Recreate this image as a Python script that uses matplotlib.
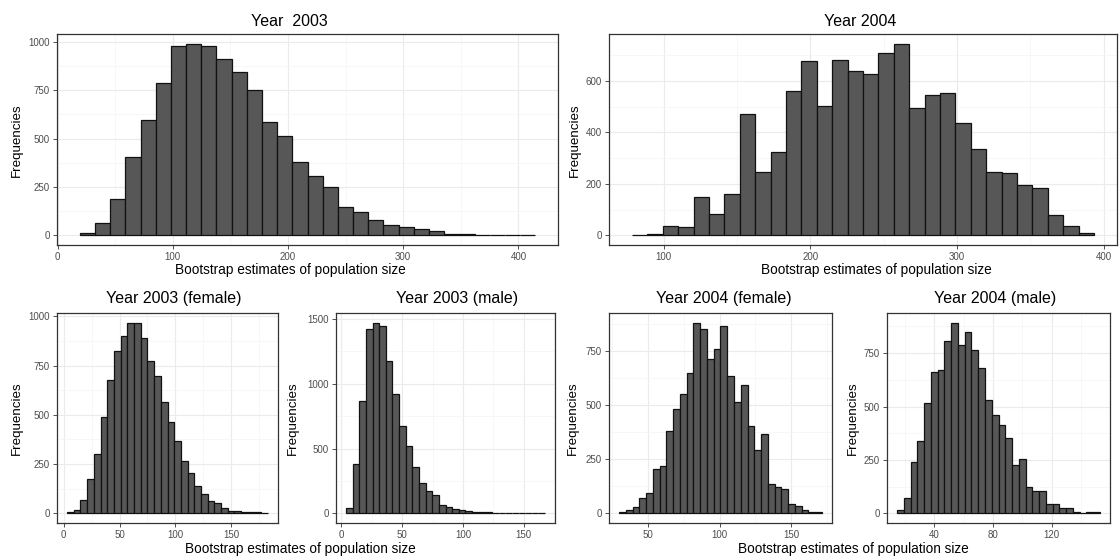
import numpy as np
import matplotlib
matplotlib.use("Agg")
import matplotlib.pyplot as plt
from matplotlib.ticker import MultipleLocator

plt.rcParams['font.family'] = ['Liberation Sans', 'DejaVu Sans']

W, H = 1120, 557

# histogram counts (30 bins each)
counts_2003 = [10, 65, 188, 403, 594, 787, 979, 990, 976, 912, 842, 749, 587, 513, 377,
               306, 251, 146, 119, 79, 53, 43, 31, 24, 9, 5, 4, 3, 3, 2]
counts_2004 = [3, 6, 35, 31, 150, 84, 162, 473, 246, 324, 559, 676, 503, 682, 640,
               627, 709, 745, 496, 544, 553, 437, 336, 248, 242, 196, 185, 79, 35, 8]
counts_2003_f = [7, 20, 66, 176, 301, 487, 677, 825, 899, 968, 968, 891, 775, 699, 565,
                 464, 365, 264, 205, 138, 99, 62, 54, 30, 13, 13, 5, 5, 5, 3]
counts_2003_m = [43, 383, 866, 1421, 1472, 1446, 1178, 920, 677, 519, 355, 235, 171, 146, 69,
                 49, 38, 28, 20, 13, 8, 8, 5, 5, 3, 0, 0, 0, 0, 5]
counts_2004_f = [5, 14, 29, 69, 92, 205, 221, 379, 480, 550, 649, 880, 849, 713, 759,
                 866, 632, 515, 594, 405, 293, 367, 136, 124, 113, 44, 35, 17, 9, 5]
counts_2004_m = [17, 70, 239, 339, 516, 660, 671, 808, 893, 786, 851, 764, 682, 530, 460,
                 414, 353, 228, 256, 124, 104, 104, 45, 42, 25, 25, 6, 3, 8, 5]

# histogram ranges (first bin start, last bin end)
range_2003 = (19.3, 414.6)
range_2004 = (78.4, 393.4)
range_2003_f = (3.0, 183.0)
range_2003_m = (3.8, 167.4)
range_2004_f = (30.1, 171.2)
range_2004_m = (14.75, 152.8)

titles = ["Year  2003", "Year 2004", "Year 2003 (female)", "Year 2003 (male)",
          "Year 2004 (female)", "Year 2004 (male)"]

fig = plt.figure(figsize=(W / 100, H / 100), dpi=100)


def px_axes(x0, x1, y0, y1):
    return fig.add_axes([x0 / W, 1 - y1 / H, (x1 - x0) / W, (y1 - y0) / H])


def hist_panel(ax, counts, rng, xmaj, ymaj):
    counts = np.array(counts)
    edges = np.linspace(rng[0], rng[1], len(counts) + 1)
    ax.bar(edges[:-1], counts, width=np.diff(edges), align='edge',
           color='#575757', edgecolor='#111111', linewidth=0.9, zorder=3)
    span = rng[1] - rng[0]
    ax.set_xlim(rng[0] - 0.05 * span, rng[1] + 0.05 * span)
    top = counts.max()
    ax.set_ylim(-0.05 * top, 1.05 * top)
    ax.xaxis.set_major_locator(MultipleLocator(xmaj))
    ax.xaxis.set_minor_locator(MultipleLocator(xmaj / 2))
    ax.yaxis.set_major_locator(MultipleLocator(ymaj))
    ax.yaxis.set_minor_locator(MultipleLocator(ymaj / 2))
    ax.grid(which='major', color='#EBEBEB', linewidth=0.8, zorder=0)
    ax.grid(which='minor', color='#F4F4F4', linewidth=0.5, zorder=0)
    ax.set_axisbelow(True)
    ax.tick_params(which='major', length=3, width=0.6, color='#333333',
                   labelsize=7, labelcolor='#4D4D4D', pad=2)
    ax.tick_params(which='minor', length=0)
    for s in ax.spines.values():
        s.set_color('#333333')
        s.set_linewidth(0.9)


panels = [
    ((57, 558, 34, 245), counts_2003, range_2003, 100, 250),
    ((609, 1117, 34, 245), counts_2004, range_2004, 100, 200),
    ((57, 278, 313, 523), counts_2003_f, range_2003_f, 50, 250),
    ((336, 555, 313, 523), counts_2003_m, range_2003_m, 50, 500),
    ((609, 832, 313, 523), counts_2004_f, range_2004_f, 50, 250),
    ((887, 1110, 313, 523), counts_2004_m, range_2004_m, 40, 250),
]

for box, cnt, rng, xm, ym in panels:
    ax = px_axes(*box)
    hist_panel(ax, cnt, rng, xm, ym)


def ftext(x, y, s, **kw):
    fig.text(x / W, 1 - y / H, s, ha='center', va='center', color='black', **kw)


# titles
title_pos = [(289, 22), (860, 22), (174, 298), (457, 298), (724, 298), (995, 298)]
for (x, y), t in zip(title_pos, titles):
    ftext(x, y, t, fontsize=11.5)

# y labels
for x, y in [(17, 140), (575, 140), (17, 418), (293, 418), (573, 418), (853, 418)]:
    ftext(x, y, "Frequencies", fontsize=9.6, rotation=90)

# x labels
for x, y in [(290, 270), (876, 270), (300, 549), (853, 549)]:
    ftext(x, y, "Bootstrap estimates of population size", fontsize=9.8)

fig.savefig("out.png", dpi=100)
